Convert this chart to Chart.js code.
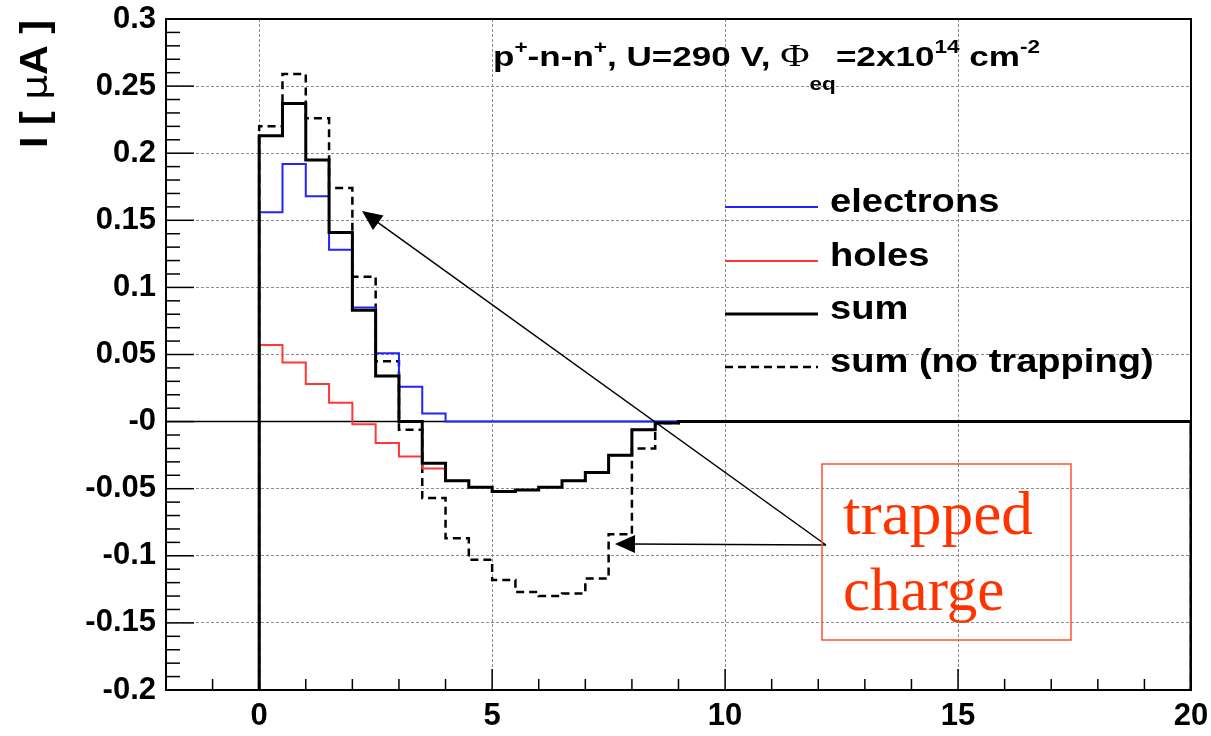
<!DOCTYPE html>
<html>
<head>
    <meta charset="utf-8">
    <title>Induced current</title>
    <script src="https://cdn.jsdelivr.net/npm/chart.js@4.4.0/dist/chart.umd.min.js"></script>
    <style>
        body { margin: 0; background: #fff; }
    </style>
</head>
<body>
    <canvas id="myChart" width="1211" height="736"></canvas>
    <script>
        // histogram bin edges, 0..20 in steps of 0.5
        const binEdges = [0, 0.5, 1, 1.5, 2, 2.5, 3, 3.5, 4, 4.5, 5, 5.5, 6, 6.5, 7, 7.5, 8, 8.5, 9, 9.5,
            10, 10.5, 11, 11.5, 12, 12.5, 13, 13.5, 14, 14.5, 15, 15.5, 16, 16.5, 17, 17.5, 18, 18.5, 19, 19.5, 20];

        // currents per bin [uA]
        const electrons = [0.156, 0.192, 0.168, 0.128, 0.085, 0.051, 0.026, 0.006, 0, 0, 0, 0, 0, 0, 0, 0, 0, 0, 0, 0,
            0, 0, 0, 0, 0, 0, 0, 0, 0, 0, 0, 0, 0, 0, 0, 0, 0, 0, 0, 0];
        const holes = [0.057, 0.044, 0.028, 0.014, -0.002, -0.016, -0.026, -0.035, -0.044, -0.049, -0.052, -0.051, -0.049, -0.044, -0.038, -0.025, -0.006, -0.001, 0, 0,
            0, 0, 0, 0, 0, 0, 0, 0, 0, 0, 0, 0, 0, 0, 0, 0, 0, 0, 0, 0];
        const sum = [0.213, 0.237, 0.195, 0.141, 0.083, 0.034, 0.000, -0.031, -0.044, -0.049, -0.052, -0.051, -0.049, -0.044, -0.038, -0.025, -0.006, -0.001, 0, 0,
            0, 0, 0, 0, 0, 0, 0, 0, 0, 0, 0, 0, 0, 0, 0, 0, 0, 0, 0, 0];
        const sumNoTrapping = [0.220, 0.259, 0.226, 0.174, 0.108, 0.045, -0.006, -0.057, -0.087, -0.103, -0.118, -0.127, -0.130, -0.128, -0.117, -0.084, -0.020, -0.001, 0, 0,
            0, 0, 0, 0, 0, 0, 0, 0, 0, 0, 0, 0, 0, 0, 0, 0, 0, 0, 0, 0];

        // axes
        const xMin = -2, xMax = 20;
        const yMin = -0.2, yMax = 0.3;
        const xTickValues = [0, 5, 10, 15, 20];
        const xTickLabels = ['0', '5', '10', '15', '20'];
        const yTickValues = [-0.2, -0.15, -0.1, -0.05, 0, 0.05, 0.1, 0.15, 0.2, 0.25, 0.3];
        const yTickLabels = ['-0.2', '-0.15', '-0.1', '-0.05', '-0', '0.05', '0.1', '0.15', '0.2', '0.25', '0.3'];

        const legendLabels = ['electrons', 'holes', 'sum', 'sum (no trapping)'];

        const BLUE = 'rgb(35,35,255)';
        const RED = 'rgb(255,55,55)';
        const ORANGE = 'rgb(255,51,0)';
        const SANS = '"Liberation Sans", Arial, sans-serif';
        const SERIF = '"Liberation Serif", "Times New Roman", serif';

        // ROOT style histogram outline: starts and ends on the axis minimum
        function histPoints(values) {
            const pts = [{ x: binEdges[0], y: yMin }];
            values.forEach((v, i) => pts.push({ x: binEdges[i], y: v }));
            const last = binEdges[binEdges.length - 1];
            pts.push({ x: last, y: values[values.length - 1] });
            pts.push({ x: last, y: yMin });
            return pts;
        }

        function line(ctx, x1, y1, x2, y2) {
            ctx.beginPath();
            ctx.moveTo(x1, y1);
            ctx.lineTo(x2, y2);
            ctx.stroke();
        }

        function arrow(ctx, x1, y1, x2, y2) {
            const ang = Math.atan2(y2 - y1, x2 - x1);
            const len = 20, half = 9;
            line(ctx, x1, y1, x2 - Math.cos(ang) * len * 0.8, y2 - Math.sin(ang) * len * 0.8);
            ctx.beginPath();
            ctx.moveTo(x2, y2);
            ctx.lineTo(x2 - Math.cos(ang) * len - Math.sin(ang) * half, y2 - Math.sin(ang) * len + Math.cos(ang) * half);
            ctx.lineTo(x2 - Math.cos(ang) * len + Math.sin(ang) * half, y2 - Math.sin(ang) * len - Math.cos(ang) * half);
            ctx.closePath();
            ctx.fill();
        }

        // text made of runs (font / vertical shift), squeezed or stretched to a width
        function drawRuns(ctx, runs, x, y, width) {
            let total = 0;
            runs.forEach(r => { ctx.font = r.font; total += ctx.measureText(r.t).width; });
            const sx = width ? width / total : 1;
            ctx.save();
            ctx.translate(x, y);
            ctx.scale(sx, 1);
            ctx.textAlign = 'left';
            ctx.textBaseline = 'alphabetic';
            let cx = 0;
            runs.forEach(r => {
                ctx.font = r.font;
                ctx.fillText(r.t, cx, r.dy || 0);
                cx += ctx.measureText(r.t).width;
            });
            ctx.restore();
        }

        const decor = {
            id: 'decor',
            beforeDatasetsDraw(chart) {
                const { ctx, chartArea: a, scales: { y } } = chart;
                ctx.save();
                ctx.strokeStyle = '#000';
                ctx.lineWidth = 1.5;
                const y0 = y.getPixelForValue(0);
                line(ctx, a.left, y0, a.right, y0);
                ctx.restore();
            },
            afterDraw(chart) {
                const { ctx, chartArea: a, scales: { x, y } } = chart;
                ctx.save();

                // frame
                ctx.strokeStyle = '#000';
                ctx.lineWidth = 2;
                ctx.strokeRect(a.left, a.top, a.right - a.left, a.bottom - a.top);

                // inward ticks
                ctx.lineWidth = 1.5;
                for (let v = xMin; v <= xMax; v++) {
                    const px = x.getPixelForValue(v);
                    const len = v % 5 === 0 ? 21 : 11;
                    line(ctx, px, a.bottom, px, a.bottom - len);
                }
                for (let k = 0; k <= 50; k++) {
                    const py = y.getPixelForValue(yMin + k * 0.01);
                    const len = k % 5 === 0 ? 28 : 14;
                    line(ctx, a.left, py, a.left + len, py);
                }

                // legend
                const legendStyles = [
                    { color: BLUE, width: 2, dash: [] },
                    { color: RED, width: 2, dash: [] },
                    { color: '#000', width: 3, dash: [] },
                    { color: '#000', width: 2.5, dash: [8, 5] }
                ];
                const legendRows = [207, 261, 314, 367];
                legendLabels.forEach((lab, i) => {
                    const st = legendStyles[i];
                    ctx.strokeStyle = st.color;
                    ctx.lineWidth = st.width;
                    ctx.setLineDash(st.dash);
                    line(ctx, 725, legendRows[i], 818, legendRows[i]);
                    ctx.setLineDash([]);
                    ctx.fillStyle = '#000';
                    ctx.font = 'bold 34px ' + SANS;
                    drawRuns(ctx, [{ t: lab, font: 'bold 34px ' + SANS }], 830, legendRows[i] + 5,
                        ctx.measureText(lab).width * 1.12);
                });

                // condition text
                ctx.fillStyle = '#000';
                const B = 'bold 28px ' + SANS, S = 'bold 18px ' + SANS;
                drawRuns(ctx, [
                    { t: 'p', font: B }, { t: '+', font: S, dy: -13 },
                    { t: '-n-n', font: B }, { t: '+', font: S, dy: -13 },
                    { t: ', U=290 V, ', font: B },
                    { t: '\u03A6', font: '32px ' + SERIF },
                    { t: 'eq', font: S, dy: 24 },
                    { t: '=2x10', font: B }, { t: '14', font: S, dy: -13 },
                    { t: ' cm', font: B }, { t: '-2', font: S, dy: -13 }
                ], 493, 66, 547);

                // y axis title
                ctx.save();
                ctx.translate(47, 148);
                ctx.rotate(-Math.PI / 2);
                const T = 'bold 38px ' + SANS;
                drawRuns(ctx, [
                    { t: 'I [ ', font: T }, { t: '\u03BC', font: '36px "DejaVu Sans", sans-serif' },
                    { t: 'A ]', font: T }
                ], 0, 0, 128);
                ctx.restore();

                // trapped charge annotation
                ctx.fillStyle = '#000';
                ctx.strokeStyle = '#000';
                ctx.lineWidth = 1.5;
                arrow(ctx, 826, 545, 362, 211);
                arrow(ctx, 826, 545, 615, 544);

                ctx.strokeStyle = 'rgb(255,80,50)';
                ctx.lineWidth = 1.5;
                ctx.strokeRect(822, 464, 249, 176);
                ctx.fillStyle = ORANGE;
                drawRuns(ctx, [{ t: 'trapped', font: '61px ' + SERIF }], 843, 534, 190);
                drawRuns(ctx, [{ t: 'charge', font: '61px ' + SERIF }], 843, 610, 0);

                ctx.restore();
            }
        };

        const data = {
            datasets: [
                { label: legendLabels[2], data: histPoints(sum), borderColor: '#000', borderWidth: 3, order: 1 },
                { label: legendLabels[1], data: histPoints(holes), borderColor: RED, borderWidth: 2, order: 2 },
                { label: legendLabels[0], data: histPoints(electrons), borderColor: BLUE, borderWidth: 2, order: 3 },
                { label: legendLabels[3], data: histPoints(sumNoTrapping), borderColor: '#000', borderWidth: 2.5, borderDash: [8, 5], order: 4 }
            ]
        };
        data.datasets.forEach(ds => {
            ds.stepped = true;
            ds.pointRadius = 0;
            ds.fill = false;
            ds.tension = 0;
        });

        const tickFont = { family: SANS, weight: 'bold', size: 31 };

        const config = {
            type: 'line',
            data: data,
            options: {
                responsive: false,
                animation: false,
                devicePixelRatio: 1,
                layout: { padding: { left: 0, right: 20, top: 19, bottom: 0 } },
                plugins: {
                    legend: { display: false },
                    tooltip: { enabled: false }
                },
                scales: {
                    x: {
                        type: 'linear',
                        min: xMin,
                        max: xMax,
                        afterBuildTicks: s => { s.ticks = xTickValues.map(v => ({ value: v })); },
                        afterFit: s => { s.height = 46; s.paddingLeft = 0; s.paddingRight = 0; },
                        ticks: {
                            autoSkip: false,
                            maxRotation: 0,
                            padding: 8,
                            color: '#000',
                            font: tickFont,
                            callback: (v, i) => xTickLabels[i]
                        },
                        grid: { color: '#8c8c8c', lineWidth: 1, drawTicks: false },
                        border: { display: false, dash: [3, 2] }
                    },
                    y: {
                        type: 'linear',
                        min: yMin,
                        max: yMax,
                        afterBuildTicks: s => { s.ticks = yTickValues.map(v => ({ value: v })); },
                        afterFit: s => { s.width = 166; s.paddingTop = 0; s.paddingBottom = 0; },
                        ticks: {
                            autoSkip: false,
                            padding: 10,
                            color: '#000',
                            font: tickFont,
                            callback: (v, i) => yTickLabels[i]
                        },
                        grid: {
                            color: c => (c.tick && c.tick.value === 0) ? 'rgba(0,0,0,0)' : '#8c8c8c',
                            lineWidth: 1,
                            drawTicks: false
                        },
                        border: { display: false, dash: [3, 2] }
                    }
                }
            },
            plugins: [decor]
        };

        const myChart = new Chart(document.getElementById('myChart'), config);
    </script>
</body>
</html>
